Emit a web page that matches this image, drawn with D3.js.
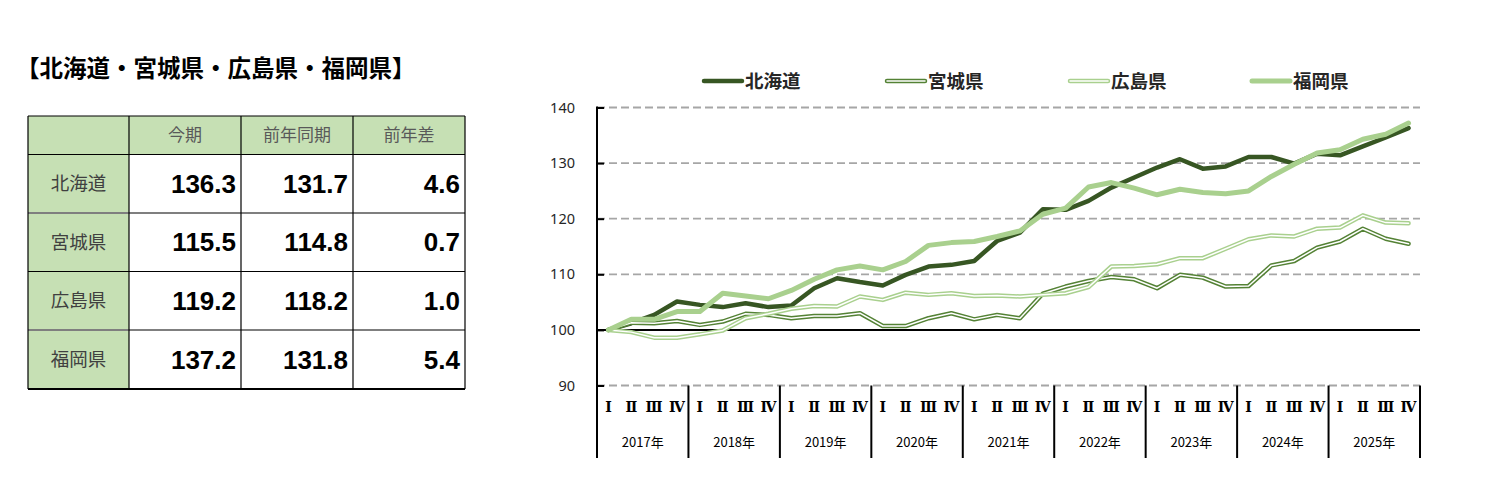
<!DOCTYPE html>
<html>
<head>
<meta charset="utf-8">
<script src="https://cdn.jsdelivr.net/npm/d3@7"></script>
<style>
  body { margin: 0; background: #fff; }
  svg { display: block; }
</style>
</head>
<body>
<div id="chart"></div>
<script>
// table data
var regions = ["北海道", "宮城県", "広島県", "福岡県"];
var tableHeads = ["今期", "前年同期", "前年差"];
var current = ["136.3", "115.5", "119.2", "137.2"];
var lastYear = ["131.7", "114.8", "118.2", "131.8"];
var diff = ["4.6", "0.7", "1.0", "5.4"];

// chart data (2017 Q1 - 2025 Q4)
var years = ["2017年", "2018年", "2019年", "2020年", "2021年", "2022年", "2023年", "2024年", "2025年"];
var quarters = ["Ⅰ", "Ⅱ", "Ⅲ", "Ⅳ"];
var yTicks = [90, 100, 110, 120, 130, 140];

var hokkaido = [100, 101.2, 102.7, 105.1, 104.5, 104.1, 104.8, 104.1, 104.4, 107.5, 109.3, 108.6,
  108.0, 109.9, 111.4, 111.7, 112.4, 116.0, 117.5, 121.7, 121.6, 123.2, 125.6, 127.4,
  129.2, 130.7, 129.0, 129.4, 131.1, 131.1, 129.9, 131.7, 131.4, 133.0, 134.6, 136.3];
var miyagi = [100, 101.3, 101.2, 101.6, 100.9, 101.5, 102.9, 102.7, 102.1, 102.5, 102.5, 103.0,
  100.7, 100.7, 102.1, 103.0, 101.9, 102.7, 102.1, 106.5, 107.8, 108.8, 109.5, 109.1,
  107.5, 109.9, 109.4, 107.8, 107.9, 111.6, 112.4, 114.8, 115.9, 118.2, 116.4, 115.5];
var hiroshima = [100, 99.6, 98.6, 98.6, 99.2, 99.9, 102.1, 102.9, 103.8, 104.3, 104.2, 106.0,
  105.4, 106.7, 106.3, 106.6, 106.1, 106.2, 106.0, 106.3, 106.6, 107.7, 111.4, 111.5,
  111.8, 112.9, 112.9, 114.6, 116.3, 117.0, 116.8, 118.2, 118.4, 120.6, 119.3, 119.2];
var fukuoka = [100, 101.9, 101.9, 103.3, 103.3, 106.6, 106.1, 105.6, 107.1, 109.1, 110.8, 111.5,
  110.8, 112.3, 115.2, 115.7, 115.9, 116.8, 117.8, 120.8, 121.9, 125.7, 126.5, 125.5,
  124.3, 125.3, 124.7, 124.5, 125.0, 127.6, 129.8, 131.8, 132.4, 134.3, 135.2, 137.2];

var series = [
  { name: "北海道", values: hokkaido, color: "#375623", width: 4.5, inner: false },
  { name: "宮城県", values: miyagi, color: "#548235", width: 4.5, inner: true },
  { name: "広島県", values: hiroshima, color: "#a9d08e", width: 4.5, inner: true },
  { name: "福岡県", values: fukuoka, color: "#a9d08e", width: 5, inner: false }
];

var jp = "'Noto Sans CJK JP', 'Noto Sans', sans-serif";

var svg = d3.select("#chart").append("svg")
  .attr("width", 1501)
  .attr("height", 495);

// ---- title ----
svg.append("text")
  .attr("x", 16)
  .attr("y", 77)
  .attr("font-family", jp)
  .attr("font-weight", "bold")
  .attr("font-size", 23.5)
  .attr("fill", "#000")
  .text("【北海道・宮城県・広島県・福岡県】");

// ---- table ----
var colX = [28, 129, 241, 353, 465];
var rowY = [116, 154.5, 213, 271.5, 330, 389];

var table = svg.append("g");

// green header row and first column
table.append("rect")
  .attr("x", colX[0]).attr("y", rowY[0])
  .attr("width", colX[4] - colX[0]).attr("height", rowY[1] - rowY[0])
  .attr("fill", "#c6e0b4");
table.append("rect")
  .attr("x", colX[0]).attr("y", rowY[0])
  .attr("width", colX[1] - colX[0]).attr("height", rowY[5] - rowY[0])
  .attr("fill", "#c6e0b4");

// header texts
table.selectAll(".head")
  .data(tableHeads)
  .enter()
  .append("text")
  .attr("x", (d, i) => (colX[i + 1] + colX[i + 2]) / 2)
  .attr("y", (rowY[0] + rowY[1]) / 2 + 6)
  .attr("text-anchor", "middle")
  .attr("font-family", jp)
  .attr("font-size", 17)
  .attr("fill", "#595959")
  .text(d => d);

// row labels
table.selectAll(".region")
  .data(regions)
  .enter()
  .append("text")
  .attr("x", (colX[0] + colX[1]) / 2)
  .attr("y", (d, i) => (rowY[i + 1] + rowY[i + 2]) / 2 + 6.5)
  .attr("text-anchor", "middle")
  .attr("font-family", jp)
  .attr("font-size", 18.5)
  .attr("fill", "#404040")
  .text(d => d);

// numbers
[current, lastYear, diff].forEach(function(col, c) {
  table.selectAll(".num" + c)
    .data(col)
    .enter()
    .append("text")
    .attr("x", colX[c + 2] - 5)
    .attr("y", (d, i) => (rowY[i + 1] + rowY[i + 2]) / 2 + 9)
    .attr("text-anchor", "end")
    .attr("font-family", "'Liberation Sans', Arial, sans-serif")
    .attr("font-weight", "bold")
    .attr("font-size", 26)
    .attr("fill", "#000")
    .text(d => d);
});

// grid lines of table
table.selectAll(".hline")
  .data(rowY)
  .enter()
  .append("line")
  .attr("x1", colX[0]).attr("x2", colX[4])
  .attr("y1", d => d).attr("y2", d => d)
  .attr("stroke", (d, i) => (i == 2 || i == 4) ? "#7f7f7f" : "#000")
  .attr("stroke-width", (d, i) => (i == 5) ? 2 : (i == 2 || i == 4) ? 2 : 1.2);
table.selectAll(".vline")
  .data(colX)
  .enter()
  .append("line")
  .attr("x1", d => d).attr("x2", d => d)
  .attr("y1", rowY[0]).attr("y2", rowY[5])
  .attr("stroke", "#000")
  .attr("stroke-width", 1.2);

// ---- line chart ----
var n = hokkaido.length;
var x = d3.scaleLinear().domain([0, n]).range([597, 1420]);
var y = d3.scaleLinear().domain([90, 140]).range([385.5, 107.5]);

var chart = svg.append("g");

// dashed grid
chart.selectAll(".grid")
  .data(yTicks.filter(d => d != 100))
  .enter()
  .append("line")
  .attr("x1", x(0)).attr("x2", x(n))
  .attr("y1", d => y(d)).attr("y2", d => y(d))
  .attr("stroke", "#a6a6a6")
  .attr("stroke-width", 1.8)
  .attr("stroke-dasharray", "8,4");

// y axis
var yAxis = d3.axisLeft(y)
  .tickValues(yTicks)
  .tickSizeInner(-7)
  .tickSizeOuter(0)
  .tickPadding(22);

var yg = chart.append("g")
  .attr("transform", `translate(${x(0)},0)`)
  .call(yAxis);
yg.select(".domain").remove();
yg.selectAll(".tick line").attr("stroke", "#000").attr("stroke-width", 2);
yg.selectAll(".tick text")
  .attr("font-family", "'Noto Sans', sans-serif")
  .attr("font-size", 14.5)
  .attr("fill", "#262626");

// base line at 100
chart.append("line")
  .attr("x1", x(0)).attr("x2", x(n))
  .attr("y1", y(100)).attr("y2", y(100))
  .attr("stroke", "#000")
  .attr("stroke-width", 2);

// left axis line
chart.append("line")
  .attr("x1", x(0)).attr("x2", x(0))
  .attr("y1", y(140) - 1).attr("y2", 458)
  .attr("stroke", "#000")
  .attr("stroke-width", 2);

// year separators
chart.selectAll(".sep")
  .data(d3.range(1, years.length + 1))
  .enter()
  .append("line")
  .attr("x1", d => x(d * 4)).attr("x2", d => x(d * 4))
  .attr("y1", y(90)).attr("y2", 458)
  .attr("stroke", "#000")
  .attr("stroke-width", 2);

// quarter labels
var qLabels = [];
years.forEach(function(yr, yi) {
  quarters.forEach(function(q, qi) { qLabels.push({ i: yi * 4 + qi, q: q }); });
});
chart.selectAll(".q")
  .data(qLabels)
  .enter()
  .append("text")
  .attr("x", d => x(d.i + 0.5))
  .attr("y", 412)
  .attr("text-anchor", "middle")
  .attr("font-family", "'Liberation Serif', 'DejaVu Serif', serif")
  .attr("font-weight", "bold")
  .attr("font-size", 14)
  .attr("fill", "#000")
  .text(d => d.q);

// year labels
chart.selectAll(".yr")
  .data(years)
  .enter()
  .append("text")
  .attr("x", (d, i) => x(i * 4 + 2))
  .attr("y", 447)
  .attr("text-anchor", "middle")
  .attr("font-family", jp)
  .attr("font-size", 13)
  .attr("fill", "#000")
  .text(d => d);

// lines
var line = d3.line()
  .x((d, i) => x(i + 0.5))
  .y(d => y(d));

series.forEach(function(s) {
  chart.append("path")
    .datum(s.values)
    .attr("d", line)
    .attr("fill", "none")
    .attr("stroke", s.color)
    .attr("stroke-width", s.width)
    .attr("stroke-linejoin", "round")
    .attr("stroke-linecap", "round");
  if (s.inner) {
    chart.append("path")
      .datum(s.values)
      .attr("d", line)
      .attr("fill", "none")
      .attr("stroke", "#fff")
      .attr("stroke-width", 1.5)
      .attr("stroke-linejoin", "round")
      .attr("stroke-linecap", "round");
  }
});

// legend
var legendX = [704, 887, 1070, 1252];
var legend = svg.append("g");
series.forEach(function(s, i) {
  var g = legend.append("g").attr("transform", `translate(${legendX[i]},81)`);
  g.append("line")
    .attr("x1", 0).attr("x2", 38)
    .attr("stroke", s.color)
    .attr("stroke-width", s.width)
    .attr("stroke-linecap", "round");
  if (s.inner) {
    g.append("line")
      .attr("x1", 0).attr("x2", 38)
      .attr("stroke", "#fff")
      .attr("stroke-width", 1.5)
      .attr("stroke-linecap", "round");
  }
  g.append("text")
    .attr("x", 41)
    .attr("y", 7)
    .attr("font-family", jp)
    .attr("font-weight", "bold")
    .attr("font-size", 18.5)
    .attr("fill", "#262626")
    .text(s.name);
});
</script>
</body>
</html>
